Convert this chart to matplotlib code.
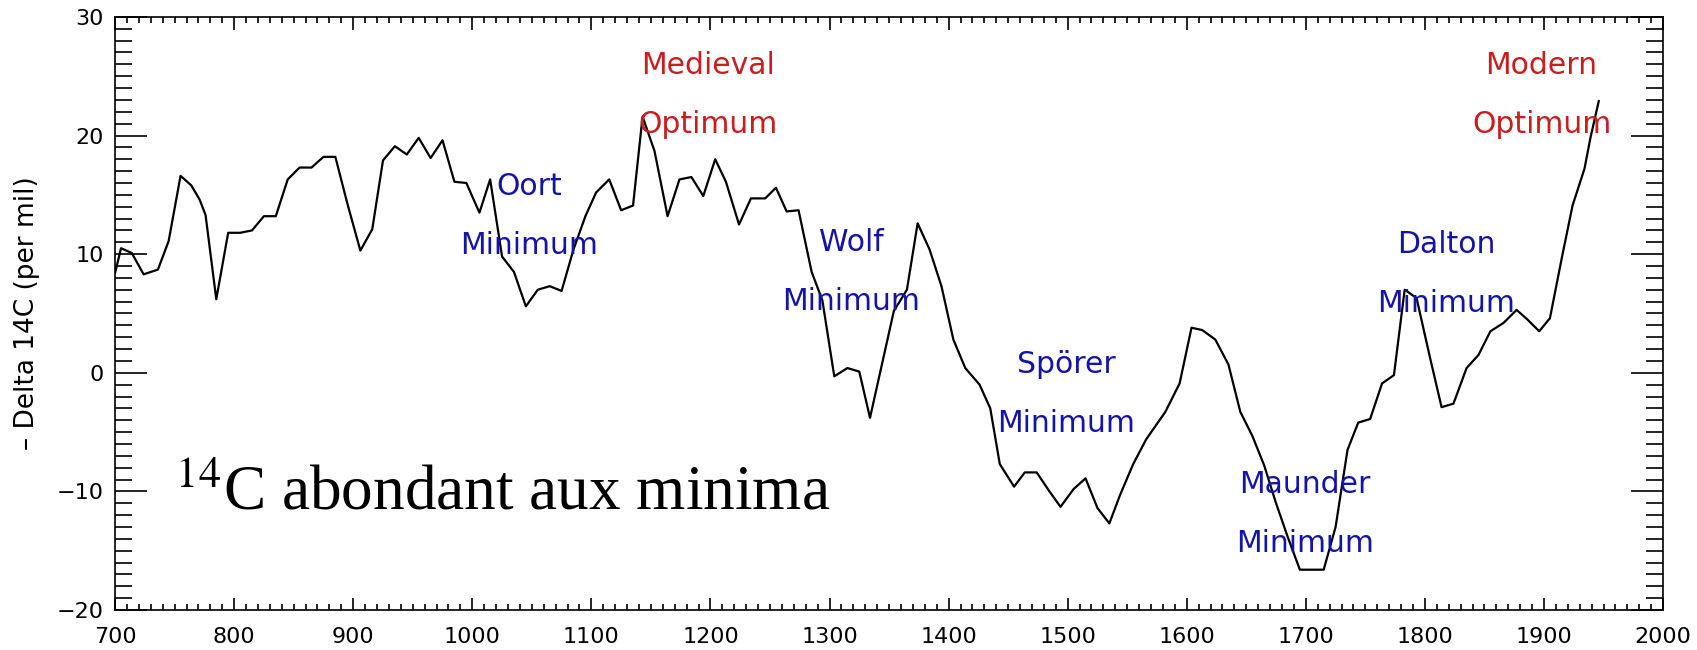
import numpy as np
import matplotlib
matplotlib.use("Agg")
import matplotlib.pyplot as plt

# radiocarbon record (year, -Delta 14C per mil)
years = [700, 705, 714, 724, 736, 745, 755, 764, 771, 776, 785, 795, 805, 815, 825,
         835, 845, 855, 865, 875, 885, 895, 906, 916, 925, 935, 945, 955, 965, 975,
         985, 995, 1006, 1015, 1025, 1035, 1045, 1055, 1065, 1075, 1085, 1095, 1104,
         1115, 1125, 1135, 1143, 1153, 1164, 1174, 1184, 1194, 1204, 1213, 1224, 1234,
         1246, 1255, 1264, 1274, 1285, 1294, 1304, 1315, 1325, 1334, 1354, 1365, 1374,
         1384, 1394, 1404, 1414, 1426, 1435, 1443, 1455, 1464, 1474, 1484, 1494, 1505,
         1515, 1525, 1535, 1544, 1555, 1566, 1582, 1594, 1604, 1613, 1624, 1635, 1645,
         1655, 1665, 1675, 1685, 1695, 1715, 1725, 1735, 1744, 1754, 1764, 1774, 1783,
         1793, 1804, 1814, 1824, 1835, 1845, 1855, 1866, 1877, 1886, 1896, 1905, 1915,
         1924, 1934, 1939, 1946]
delta14c = [8.4, 10.5, 10.1, 8.3, 8.7, 11.1, 16.6, 15.8, 14.6, 13.3, 6.2, 11.8, 11.8, 12.0, 13.2,
            13.2, 16.3, 17.3, 17.3, 18.2, 18.2, 14.3, 10.3, 12.1, 17.9, 19.1, 18.4, 19.8, 18.1, 19.6,
            16.1, 16.0, 13.5, 16.3, 9.8, 8.5, 5.6, 7.0, 7.3, 6.9, 10.4, 13.2, 15.2,
            16.3, 13.7, 14.1, 21.6, 18.7, 13.2, 16.3, 16.5, 14.9, 18.0, 16.1, 12.5, 14.7,
            14.7, 15.6, 13.6, 13.7, 8.5, 6.1, -0.3, 0.4, 0.1, -3.8, 5.2, 7.0, 12.6,
            10.4, 7.3, 2.8, 0.4, -1.0, -3.0, -7.7, -9.6, -8.4, -8.4, -9.9, -11.3, -9.8,
            -8.9, -11.4, -12.7, -10.3, -7.7, -5.6, -3.3, -0.9, 3.8, 3.6, 2.8, 0.7, -3.3,
            -5.3, -7.8, -11.0, -13.9, -16.6, -16.6, -13.0, -6.5, -4.2, -3.9, -0.9, -0.2, 7.0,
            6.3, 1.4, -2.9, -2.6, 0.4, 1.5, 3.5, 4.2, 5.3, 4.5, 3.5, 4.6, 9.7,
            14.1, 17.2, 19.8, 22.9]

# period labels: (first line, second line, centre year, y of first line, colour)
labels = [("Oort", "Minimum", 1048, 15.7, "blue"),
          ("Medieval", "Optimum", 1198, 25.9, "red"),
          ("Wolf", "Minimum", 1318, 11.0, "blue"),
          ("Spörer", "Minimum", 1499, 0.7, "blue"),
          ("Maunder", "Minimum", 1699, -9.4, "blue"),
          ("Dalton", "Minimum", 1818, 10.8, "blue"),
          ("Modern", "Optimum", 1898, 25.9, "red")]
line_gap = 5.0
colours = {"blue": "#1414a8", "red": "#c81e1e"}

plt.rcParams["mathtext.fontset"] = "stix"

fig = plt.figure(figsize=(16.97, 6.5), dpi=100)
ax = fig.add_axes([0.0678, 0.0615, 0.9122, 0.9125])

ax.plot(years, delta14c, color="black", lw=1.6)

for top, bottom, xc, yc, col in labels:
    ax.text(xc, yc, top, color=colours[col], fontsize=21.5, ha="center", va="center")
    ax.text(xc, yc - line_gap, bottom, color=colours[col], fontsize=21.5, ha="center", va="center")

ax.text(750, -11.5, r"$^{14}$C abondant aux minima", fontsize=45.5,
        family="Liberation Serif", ha="left", va="baseline")

ax.set_xlim(700, 2000)
ax.set_ylim(-20, 30)
ax.set_xticks(np.arange(700, 2001, 100))
ax.set_xticks(np.arange(700, 2001, 10), minor=True)
ax.set_yticks(np.arange(-20, 31, 10))
ax.set_yticks(np.arange(-20, 31, 1), minor=True)
ax.tick_params(axis="both", which="both", direction="in", top=True, right=True,
               labelsize=16, width=1.2)
ax.tick_params(axis="x", which="major", length=9, pad=12)
ax.tick_params(axis="x", which="minor", length=4.3)
ax.tick_params(axis="y", which="major", length=23, pad=8)
ax.tick_params(axis="y", which="minor", length=12)
for sp in ax.spines.values():
    sp.set_linewidth(1.2)
ax.set_ylabel("– Delta 14C (per mil)", fontsize=19, labelpad=12)

fig.savefig("out.png", dpi=100)
